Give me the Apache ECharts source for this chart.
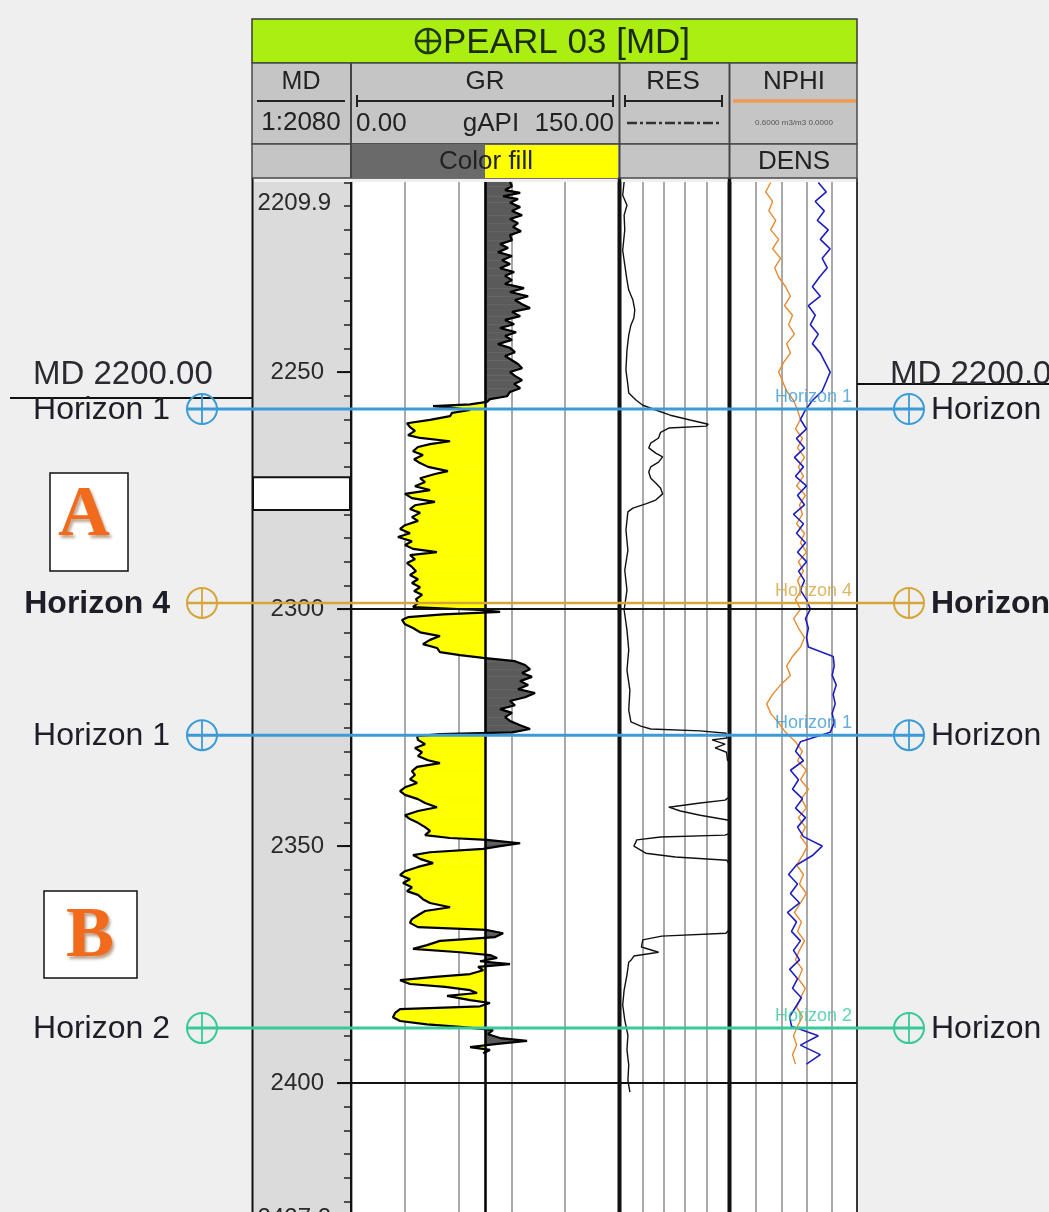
<!DOCTYPE html>
<html><head><meta charset="utf-8">
<script src="https://cdn.jsdelivr.net/npm/echarts@6/dist/echarts.min.js"></script>
<style>html,body{margin:0;padding:0;background:#efefef;overflow:hidden}#c{width:1049px;height:1212px}</style>
</head><body><div id="c"></div><script>
// ---------------- DATA ----------------
const DEPTH_TOP = 2209.9, DEPTH_BOTTOM = 2427.2;
const MD_LABELS = [2250, 2300, 2350, 2400];
const MAJOR_DEPTH_LINES = [2300, 2400];
const MD_GAP = [2272.2, 2279.1];

const GR_DEPTH = [
2209.9,2210.8,2211.6,2212.2,2212.9,2213.5,2214.3,2215.2,2216.0,2216.9,
2217.7,2218.6,2219.4,2220.3,2221.1,2222.2,2223.0,2223.8,2224.7,2225.5,
2226.4,2227.2,2228.1,2228.9,2229.7,2230.6,2231.4,2232.3,2233.1,2234.0,
2234.8,2235.7,2236.5,2237.3,2238.2,2239.0,2239.9,2240.7,2241.6,2242.4,
2243.2,2244.1,2244.9,2245.8,2246.6,2247.5,2248.3,2249.2,2250.0,2250.8,
2251.7,2252.5,2253.4,2254.2,2255.1,2255.7,2256.3,2256.8,2257.2,2257.6,
2258.0,2258.6,2259.3,2260.1,2260.8,2261.6,2262.4,2263.3,2263.9,2264.6,
2265.2,2265.8,2266.7,2267.5,2268.4,2269.2,2270.0,2270.9,2271.5,2272.4,
2273.2,2274.1,2274.9,2275.7,2276.6,2277.4,2278.1,2278.9,2279.7,2280.6,
2281.4,2282.3,2283.1,2284.0,2284.8,2285.7,2286.5,2287.3,2288.0,2288.6,
2289.5,2290.3,2291.1,2292.0,2292.8,2293.7,2294.5,2295.4,2296.2,2297.0,
2297.9,2298.7,2299.6,2300.2,2300.6,2301.1,2301.7,2302.3,2303.2,2304.0,
2304.9,2305.7,2306.5,2307.4,2308.2,2309.1,2309.7,2310.3,2311.0,2311.8,
2312.7,2313.5,2314.3,2315.2,2316.0,2316.9,2317.7,2318.6,2319.4,2320.3,
2321.1,2321.9,2322.8,2323.6,2324.5,2325.3,2326.0,2326.4,2326.8,2327.6,
2328.5,2329.3,2330.2,2331.0,2331.9,2332.5,2333.3,2334.2,2335.0,2335.9,
2336.7,2337.6,2338.4,2339.2,2340.1,2340.9,2341.8,2342.6,2343.5,2344.3,
2345.1,2346.0,2346.8,2347.7,2348.3,2348.7,2349.4,2350.0,2350.6,2351.3,
2351.9,2352.7,2353.6,2354.4,2355.3,2356.1,2357.0,2357.8,2358.7,2359.5,
2360.3,2361.2,2362.0,2362.9,2363.7,2364.6,2365.4,2366.2,2367.1,2367.7,
2368.4,2369.2,2370.0,2370.9,2371.7,2372.4,2373.0,2373.6,2374.3,2374.9,
2375.5,2376.2,2377.0,2377.6,2378.3,2379.1,2379.7,2380.4,2381.0,2381.6,
2382.5,2383.1,2383.8,2384.4,2385.2,2386.1,2386.9,2387.6,2388.2,2388.8,
2389.7,2390.5,2391.1,2391.8,2392.4,2393.0,2393.7];
const GR_VALUE = [
89.1,90.2,86.3,94.8,85.2,93.6,89.1,94.8,90.2,95.9,
89.1,93.6,90.8,95.3,89.1,90.2,83.5,88.0,82.3,90.2,
84.6,89.1,83.5,91.4,86.3,90.2,86.3,97.0,89.1,99.3,
91.9,95.9,100.4,90.2,94.8,86.3,91.4,83.5,92.5,86.3,
90.2,82.3,89.1,91.9,86.3,90.2,93.6,95.9,89.1,91.9,
95.9,91.4,94.8,89.1,87.4,77.8,76.1,66.6,45.7,58.1,
66.6,56.4,55.3,44.0,31.0,32.7,35.5,31.6,38.4,55.3,
44.0,37.2,34.4,40.0,35.0,38.4,42.9,54.1,46.8,38.4,
41.2,35.5,44.0,29.9,33.8,46.8,35.5,32.7,38.4,33.8,
37.2,29.9,27.1,32.7,25.9,33.8,29.9,34.4,47.9,32.7,
35.5,31.0,33.8,36.1,32.7,37.2,33.8,38.4,35.0,39.5,
36.1,37.2,34.4,72.2,83.5,51.3,31.6,28.2,29.9,34.4,
38.4,49.6,44.0,40.0,47.9,49.6,60.9,73.9,91.9,97.6,
100.4,95.9,101.5,94.8,99.3,93.6,103.2,97.6,89.1,91.9,
83.5,90.2,86.3,89.1,94.8,100.4,90.2,49.6,36.7,37.2,
41.2,35.5,39.5,37.2,42.9,49.6,36.7,33.8,35.5,32.7,
36.7,29.9,27.1,29.9,37.2,41.2,47.9,37.2,29.9,32.7,
37.2,41.2,44.0,41.2,55.3,76.0,94.8,83.5,74.0,44.0,
34.4,38.4,45.7,37.2,29.9,27.1,32.7,28.8,33.8,31.0,
37.2,40.0,44.0,55.3,41.2,37.2,33.8,32.7,37.2,76.0,
85.2,80.7,49.6,42.3,34.4,60.9,77.8,81.8,72.2,89.1,
71.1,74.0,66.6,46.8,27.1,32.7,52.5,66.6,70.5,53.6,
66.6,77.8,72.2,27.1,24.3,23.1,27.1,42.3,62.6,79.5,
76.7,83.5,98.7,80.7,66.6,77.8,74.0];
const GR_CUTOFF = 75;

const RES_DEPTH = [
2209.9,2212.7,2214.8,2216.9,2220.0,2224.3,2227.4,2230.6,2232.7,2234.8,
2236.9,2238.6,2240.1,2242.2,2245.4,2249.6,2252.7,2254.4,2255.9,2257.0,
2258.0,2259.1,2260.1,2261.0,2261.4,2261.8,2262.7,2263.9,2265.0,2266.0,
2267.1,2267.9,2269.0,2270.0,2271.1,2272.4,2273.4,2274.5,2275.7,2277.0,
2277.8,2278.7,2279.5,2283.3,2287.6,2291.8,2296.0,2300.2,2304.4,2308.6,
2312.9,2317.1,2321.3,2323.8,2324.7,2325.3,2325.7,2326.2,2327.2,2327.6,
2328.5,2329.3,2330.2,2331.9,2334.0,2338.2,2340.3,2340.9,2341.8,2342.6,
2343.5,2344.5,2346.6,2347.7,2348.1,2348.7,2350.0,2351.5,2352.3,2353.0,
2357.2,2361.4,2365.6,2368.4,2369.0,2369.8,2371.3,2372.4,2373.2,2374.1,
2374.5,2377.2,2380.4,2383.5,2386.7,2389.9,2393.0,2396.2,2399.4,2401.9];
const RES_VALUE = [
0.14,0.12,0.19,0.14,0.15,0.12,0.15,0.19,0.23,0.36,
0.44,0.40,0.29,0.23,0.19,0.17,0.21,0.23,0.50,1.04,
4.2,20,170,1200,950,17,7.1,5.7,2.45,1.98,
4.2,8.8,5.7,2.45,1.98,2.45,4.2,7.1,8.8,4.2,
1.43,0.36,0.21,0.17,0.21,0.15,0.19,0.14,0.19,0.23,
0.19,0.26,0.23,0.29,0.84,2.45,500,8200,9000,1800,
7300,2500,8500,9500,30000,30000,7300,500,17,60,
500,9500,30000,7300,7.1,0.55,0.40,1.43,35,9000,
30000,30000,30000,8000,8.0,1.04,0.9,5.7,0.4,0.29,
0.23,0.19,0.14,0.12,0.15,0.21,0.19,0.23,0.21,0.26];

const LOG_DEPTH = [
2210,2212,2214,2216,2218,2220,2222,2224,2226,2228,
2230,2232,2234,2236,2238,2240,2242,2244,2246,2248,
2250,2252,2254,2256,2258,2260,2262,2264,2266,2268,
2270,2272,2274,2276,2278,2280,2282,2284,2286,2288,
2290,2292,2294,2296,2298,2300,2302,2304,2306,2308,
2310,2312,2314,2316,2318,2320,2322,2324,2326,2328,
2330,2332,2334,2336,2338,2340,2342,2344,2346,2348,
2350,2352,2354,2356,2358,2360,2362,2364,2366,2368,
2370,2372,2374,2376,2378,2380,2382,2384,2386,2388,
2390,2392,2394,2396];
const NPHI_VALUE = [
.411,.435,.402,.420,.387,.411,.373,.402,.364,.392,
.373,.340,.317,.345,.307,.326,.298,.335,.317,.350,
.373,.354,.335,.302,.283,.269,.293,.260,.283,.250,
.279,.255,.288,.246,.274,.260,.288,.250,.269,.241,
.279,.255,.283,.265,.293,.269,.302,.279,.250,.269,
.307,.335,.317,.364,.402,.430,.411,.373,.340,.293,
.260,.283,.241,.269,.231,.265,.241,.279,.246,.269,
.236,.260,.288,.255,.274,.241,.269,.298,.265,.283,
.250,.274,.293,.260,.279,.246,.269,.288,.260,.283,
.302,.288,.307,.293];
const DENS_VALUE = [
2.643,2.706,2.619,2.690,2.635,2.722,2.659,2.737,2.674,2.714,
2.651,2.596,2.659,2.564,2.619,2.580,2.643,2.596,2.659,2.698,
2.737,2.706,2.674,2.596,2.541,2.501,2.549,2.470,2.533,2.454,
2.525,2.462,2.549,2.478,2.533,2.446,2.525,2.470,2.541,2.478,
2.549,2.486,2.533,2.501,2.549,2.580,2.541,2.564,2.549,2.564,
2.761,2.769,2.753,2.785,2.761,2.777,2.753,2.769,2.737,2.501,
2.462,2.525,2.422,2.486,2.438,2.517,2.462,2.541,2.478,2.525,
2.674,2.596,2.470,2.407,2.478,2.422,2.494,2.399,2.470,2.430,
2.501,2.446,2.494,2.415,2.478,2.438,2.509,2.462,2.415,2.430,
2.643,2.501,2.659,2.549];

const HORIZON_NAMES = ['Horizon 1', 'Horizon 4', 'Horizon 1', 'Horizon 2'];
const HORIZON_DEPTHS = [2257.8, 2298.7, 2326.6, 2388.4];
const HORIZON_COLORS = ['#3a9bd7', '#d5a53a', '#3a9bd7', '#38c99a'];
const HORIZON_BOLD = [false, true, false, false];

// ---------------- CHART ----------------
const FONT = '"Liberation Sans", Arial, sans-serif';
const chart = echarts.init(document.getElementById('c'), null, {renderer: 'canvas'});

const MD_TICKS = [];
for (let d = 2210; d <= 2425; d += 5) MD_TICKS.push(d);

function yAx(grid, extra) {
  return Object.assign({
    type: 'value', gridIndex: grid, inverse: true, min: DEPTH_TOP, max: DEPTH_BOTTOM,
    axisLine: {show: false}, axisTick: {show: false}, axisLabel: {show: false}, splitLine: {show: false}
  }, extra || {});
}
const hiddenX = {axisLine: {show: false}, axisTick: {show: false}, axisLabel: {show: false}};
const gridLineStyle = {show: true, lineStyle: {color: '#8d8d8d', width: 1.5}};

const option = {
  animation: false,
  backgroundColor: '#efefef',
  grid: [
    {left: 253, top: 182, width: 97, height: 1030, show: true, backgroundColor: '#dbdbdb', borderWidth: 0},
    {left: 352, top: 182, width: 266, height: 1030, show: true, backgroundColor: '#ffffff', borderWidth: 0},
    {left: 621, top: 182, width: 107, height: 1030, show: true, backgroundColor: '#ffffff', borderWidth: 0},
    {left: 731, top: 182, width: 126, height: 1030, show: true, backgroundColor: '#ffffff', borderWidth: 0}
  ],
  xAxis: [
    Object.assign({type: 'value', gridIndex: 0, min: 0, max: 1, splitLine: {show: false}}, hiddenX),
    Object.assign({type: 'value', gridIndex: 1, min: 0, max: 150, interval: 30, splitLine: gridLineStyle}, hiddenX),
    Object.assign({type: 'log', gridIndex: 2, min: 0.1, max: 10000, logBase: 10, splitLine: gridLineStyle}, hiddenX),
    Object.assign({type: 'value', gridIndex: 3, min: 0, max: 0.6, interval: 0.12, inverse: true, splitLine: gridLineStyle}, hiddenX),
    Object.assign({type: 'value', gridIndex: 3, min: 1.95, max: 2.95, splitLine: {show: false}}, hiddenX)
  ],
  yAxis: [
    // MD labels (right edge of MD track, inside)
    yAx(0, {position: 'right',
      axisLabel: {show: true, inside: true, customValues: MD_LABELS, margin: 26, fontSize: 24, fontFamily: FONT,
        color: '#2a2a2a', formatter: v => String(v)}}),
    // GR track depth axis: its left side carries the 5 m ticks pointing into the MD track
    yAx(1, {position: 'left',
      axisTick: {show: true, inside: false, length: 8, customValues: MD_TICKS, lineStyle: {color: '#222', width: 1.5}}}),
    yAx(2), yAx(3)
  ],
  series: [
    { // white gap in MD track
      type: 'custom', xAxisIndex: 0, yAxisIndex: 0, silent: true, clip: true,
      data: [[0, MD_GAP[0], 1, MD_GAP[1]]],
      renderItem: function (params, api) {
        const p0 = api.coord([api.value(0), api.value(1)]);
        const p1 = api.coord([api.value(2), api.value(3)]);
        return {type: 'rect', shape: {x: p0[0], y: p0[1], width: p1[0] - p0[0], height: p1[1] - p0[1]},
          style: {fill: '#ffffff', stroke: '#111', lineWidth: 2}};
      }
    },
    { // GR color fill
      type: 'custom', xAxisIndex: 1, yAxisIndex: 1, silent: true, clip: true,
      data: GR_DEPTH.slice(0, -1).map((d, i) => [GR_VALUE[i], d]),
      renderItem: function (params, api) {
        const i = params.dataIndex;
        const g0 = GR_VALUE[i], d0 = GR_DEPTH[i], g1 = GR_VALUE[i + 1], d1 = GR_DEPTH[i + 1];
        const col = g => g < GR_CUTOFF ? '#ffff00' : '#5b5b5b';
        const poly = (pts, c) => ({type: 'polygon', shape: {points: pts.map(p => api.coord(p))},
          style: {fill: c, stroke: c, lineWidth: 0.6}});
        const children = [];
        if ((g0 - GR_CUTOFF) * (g1 - GR_CUTOFF) < 0) {
          const t = (GR_CUTOFF - g0) / (g1 - g0);
          const dc = d0 + t * (d1 - d0);
          children.push(poly([[g0, d0], [GR_CUTOFF, dc], [GR_CUTOFF, d0]], col(g0)));
          children.push(poly([[GR_CUTOFF, dc], [g1, d1], [GR_CUTOFF, d1]], col(g1)));
        } else {
          children.push(poly([[g0, d0], [g1, d1], [GR_CUTOFF, d1], [GR_CUTOFF, d0]], col((g0 + g1) / 2)));
        }
        return {type: 'group', children: children};
      }
    },
    {
      type: 'line', name: 'GR', xAxisIndex: 1, yAxisIndex: 1, symbol: 'none', silent: true,
      data: GR_DEPTH.map((d, i) => [GR_VALUE[i], d]),
      lineStyle: {color: '#000', width: 2.2},
      markLine: {silent: true, symbol: 'none', label: {show: false},
        lineStyle: {color: '#000', width: 2.5, type: 'solid'}, data: [{xAxis: GR_CUTOFF}]}
    },
    {
      type: 'line', name: 'RES', xAxisIndex: 2, yAxisIndex: 2, symbol: 'none', silent: true,
      data: RES_DEPTH.map((d, i) => [RES_VALUE[i], d]),
      lineStyle: {color: '#111', width: 1.4}
    },
    {
      type: 'line', name: 'NPHI', xAxisIndex: 3, yAxisIndex: 3, symbol: 'none', silent: true,
      data: LOG_DEPTH.map((d, i) => [NPHI_VALUE[i], d]),
      lineStyle: {color: '#e88a30', width: 1.4}
    },
    {
      type: 'line', name: 'DENS', xAxisIndex: 4, yAxisIndex: 3, symbol: 'none', silent: true,
      data: LOG_DEPTH.map((d, i) => [DENS_VALUE[i], d]),
      lineStyle: {color: '#1f1fc0', width: 1.6}
    }
  ]
};
chart.setOption(option);

// ---------------- GRAPHICS (header, annotations) ----------------
const G = [];
const Z = 60;
function L(x1, y1, x2, y2, c, w, z, dash) {
  G.push({type: 'line', silent: true, z: z || Z, shape: {x1, y1, x2, y2},
    style: {stroke: c, lineWidth: w, lineDash: dash || null}});
}
function R(x, y, w, h, fill, stroke, lw, z) {
  G.push({type: 'rect', silent: true, z: z || Z, shape: {x, y, width: w, height: h},
    style: {fill: fill, stroke: stroke || null, lineWidth: lw || 0}});
}
function T(text, x, y, size, opts) {
  opts = opts || {};
  G.push({type: 'text', silent: true, z: opts.z || Z + 2, x: x, y: y,
    style: Object.assign({text: text, fontSize: size, fontFamily: opts.family || FONT,
      fontWeight: opts.weight || 'normal', fill: opts.color || '#222',
      align: opts.align || 'left', verticalAlign: opts.va || 'middle', opacity: opts.opacity == null ? 1 : opts.opacity},
      opts.extra || {})});
}
function crossCircle(cx, cy, r, c) {
  G.push({type: 'circle', silent: true, z: Z + 1, shape: {cx, cy, r}, style: {fill: 'rgba(0,0,0,0)', stroke: c, lineWidth: 2}});
  L(cx, cy - r, cx, cy + r, c, 1.8, Z + 1);
  L(cx - r, cy, cx + r, cy, c, 1.8, Z + 1);
}

// header
R(252, 19, 605, 44, '#abef12', '#3a3a3a', 1.5);
G.push({type: 'circle', silent: true, z: Z + 1, shape: {cx: 428, cy: 41, r: 12}, style: {fill: 'rgba(0,0,0,0)', stroke: '#1f3a12', lineWidth: 2.6}});
L(428, 30, 428, 52, '#1f3a12', 2.6, Z + 1);
L(417, 41, 439, 41, '#1f3a12', 2.6, Z + 1);
T('PEARL 03 [MD]', 443, 43, 35, {color: '#1d2a12'});

R(252, 63, 605, 81, '#c5c5c5', '#4a4a4a', 1.5);
R(252, 144, 605, 34, '#c5c5c5', '#4a4a4a', 1.5);
R(352, 145, 133, 33, '#6a6a6a');
R(485, 145, 133, 33, '#ffff00');
L(351, 63, 351, 178, '#444', 2);
L(619.5, 63, 619.5, 178, '#444', 2);
L(729.5, 63, 729.5, 178, '#444', 2);

T('MD', 301, 82, 25, {align: 'center'});
L(257, 101, 345, 101, '#222', 2);
T('1:2080', 301, 123, 26, {align: 'center'});
T('GR', 485, 82, 26, {align: 'center'});
L(357, 101, 613, 101, '#222', 2); L(357, 95, 357, 107, '#222', 2); L(613, 95, 613, 107, '#222', 2);
T('0.00', 356, 124, 26);
T('gAPI', 491, 124, 26, {align: 'center'});
T('150.00', 614, 124, 26, {align: 'right'});
T('RES', 673, 82, 26, {align: 'center'});
L(625, 101, 722, 101, '#222', 2); L(625, 95, 625, 107, '#222', 2); L(722, 95, 722, 107, '#222', 2);
L(627, 123, 720, 123, '#333', 2.5, Z, [10, 3, 3, 3]);
T('NPHI', 794, 82, 26, {align: 'center'});
L(733, 101, 856, 101, '#f09a52', 3.5);
T('0.6000 m3/m3 0.0000', 794, 123, 8, {align: 'center', color: '#555'});
T('Color fill', 486, 162, 26, {align: 'center'});
T('DENS', 794, 162, 26, {align: 'center'});

// track borders
L(252.5, 178, 252.5, 1212, '#111', 2, Z - 5);
L(351, 182, 351, 1212, '#111', 2, Z - 5);
L(619.5, 178, 619.5, 1212, '#111', 3.5, Z - 5);
L(729.5, 178, 729.5, 1212, '#111', 3.5, Z - 5);
L(857, 178, 857, 1212, '#111', 1.5, Z - 5);

// depth labels at ends of MD track
const yTop = chart.convertToPixel({yAxisIndex: 0}, DEPTH_TOP);
const yBot = chart.convertToPixel({yAxisIndex: 0}, DEPTH_BOTTOM);
T(DEPTH_TOP.toFixed(1), 331, yTop + 21, 24, {align: 'right', color: '#2a2a2a'});
T(DEPTH_BOTTOM.toFixed(1), 331, yBot - 6, 24, {align: 'right', va: 'top', color: '#2a2a2a'});

// long ticks at labelled depths, and major depth lines across tracks
MD_LABELS.forEach(d => {
  const y = chart.convertToPixel({yAxisIndex: 0}, d);
  L(337, y, 352, y, '#111', 2, Z - 2);
});
MAJOR_DEPTH_LINES.forEach(d => {
  const y = chart.convertToPixel({yAxisIndex: 1}, d);
  L(338, y, 857, y, '#111', 2, Z - 2);
});

// MD reference annotation
T('MD 2200.00', 33, 375, 33, {color: '#2a2a30'});
L(10, 398, 252, 398, '#111', 2);
T('MD 2200.00', 890, 375, 33, {color: '#2a2a30'});
L(857, 384, 1049, 384, '#111', 2);

// horizons
HORIZON_DEPTHS.forEach((d, i) => {
  const y = chart.convertToPixel({yAxisIndex: 1}, d);
  const c = HORIZON_COLORS[i];
  L(187, y, 924, y, c, i === 1 ? 2.5 : 3, Z);
  crossCircle(202, y, 15, c);
  crossCircle(909, y, 15, c);
  T(HORIZON_NAMES[i], 170, y + 1, 32, {align: 'right', weight: HORIZON_BOLD[i] ? 'bold' : 'normal', color: '#1e1e28'});
  T(HORIZON_NAMES[i], 931, y + 1, 32, {weight: HORIZON_BOLD[i] ? 'bold' : 'normal', color: '#1e1e28'});
  T(HORIZON_NAMES[i], 852, y - 12, 18, {align: 'right', color: c, opacity: 0.8});
});

// zone boxes
R(50, 473, 78, 98, '#ffffff', '#111', 1.5);
R(44, 891, 93, 87, '#ffffff', '#111', 1.5);
const letterExtra = {textShadowColor: 'rgba(110,50,0,0.45)', textShadowBlur: 3, textShadowOffsetX: 2, textShadowOffsetY: 3};
T('A', 84, 516, 72, {align: 'center', family: '"Liberation Serif", "Times New Roman", serif', weight: 'bold', color: '#f26b1d', extra: letterExtra});
T('B', 90, 937, 72, {align: 'center', family: '"Liberation Serif", "Times New Roman", serif', weight: 'bold', color: '#f26b1d', extra: letterExtra});

chart.setOption({graphic: {elements: G}});
</script></body></html>
